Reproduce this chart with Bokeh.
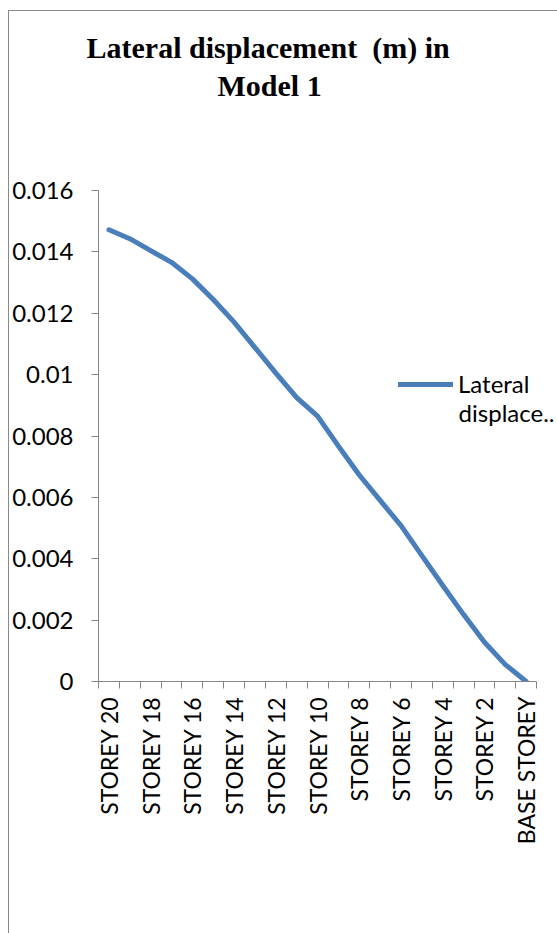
import math
from bokeh.plotting import figure
from bokeh.models import (ColumnDataSource, FixedTicker, Legend, LegendItem, Title,
                          Range1d, InlineStyleSheet, Label)
from bokeh.embed import file_html
from bokeh.resources import INLINE

storeys = ["STOREY 20", "STOREY 19", "STOREY 18", "STOREY 17", "STOREY 16",
           "STOREY 15", "STOREY 14", "STOREY 13", "STOREY 12", "STOREY 11",
           "STOREY 10", "STOREY 9", "STOREY 8", "STOREY 7", "STOREY 6",
           "STOREY 5", "STOREY 4", "STOREY 3", "STOREY 2", "STOREY 1",
           "BASE STOREY"]
displacement = [0.01472, 0.01443, 0.01404, 0.01366, 0.01312, 0.01245, 0.01171,
                0.01088, 0.01005, 0.00925, 0.00865, 0.00767, 0.00673, 0.0059,
                0.00508, 0.0041, 0.00313, 0.00218, 0.00128, 0.00055, 0.0]
y_ticks = [0, 0.002, 0.004, 0.006, 0.008, 0.01, 0.012, 0.014, 0.016]
y_tick_labels = ["0", "0.002", "0.004", "0.006", "0.008", "0.01", "0.012", "0.014", "0.016"]
title_line1 = "Lateral displacement \u00a0(m) in"
title_line2 = "Model 1"
series_name_line1 = "Lateral"
series_name_line2 = "displace.."

n = len(storeys)
idx = list(range(n))
src = ColumnDataSource(dict(x=idx, y=displacement))

LABEL_FONT = "Lato"
AXIS_COLOR = "#868686"

p = figure(width=557, height=933, output_backend="svg", toolbar_location=None,
           x_range=Range1d(-0.5, n + 0.5), y_range=Range1d(0, 0.016),
           min_border_left=98, min_border_right=0, min_border_top=190,
           min_border_bottom=252)
p.title = None
p.outline_line_color = None
p.grid.visible = False
p.background_fill_color = "white"
p.border_fill_color = "white"

r = p.line("x", "y", source=src, line_color="#4A7EBB", line_width=5,
           line_cap="round", line_join="round")

# x axis (category axis, ticks between categories)
xa = p.xaxis[0]
xa.bounds = (-0.5, n - 0.5)
xa.ticker = FixedTicker(ticks=idx[::2], minor_ticks=[i - 0.5 for i in range(n + 1)])
xa.major_label_overrides = {i: storeys[i] for i in idx[::2]}
xa.major_label_orientation = math.pi / 2
xa.major_tick_out = 0
xa.major_tick_in = 0
xa.minor_tick_out = 7
xa.minor_tick_in = 0
xa.minor_tick_line_color = AXIS_COLOR
xa.axis_line_color = AXIS_COLOR
xa.major_label_standoff = 8
xa.major_label_text_font = LABEL_FONT
xa.major_label_text_font_size = "23px"
xa.major_label_text_color = "black"

# y axis
ya = p.yaxis[0]
ya.ticker = FixedTicker(ticks=y_ticks, minor_ticks=[])
ya.major_label_overrides = {t: l for t, l in zip(y_ticks, y_tick_labels)}
ya.major_tick_out = 7
ya.major_tick_in = 0
ya.major_tick_line_color = AXIS_COLOR
ya.axis_line_color = AXIS_COLOR
ya.minor_tick_line_color = None
ya.major_label_standoff = 18
ya.major_label_text_font = LABEL_FONT
ya.major_label_text_font_size = "24px"
ya.major_label_text_color = "black"

# titles (a blank spacer title keeps the two title lines up at the top)
spacer = Title(text=" ", standoff=73, text_font_size="10px")
t2 = Title(text=title_line2, align="left", offset=119, standoff=6,
           text_font="Liberation Serif", text_font_style="bold",
           text_font_size="30px", text_color="black")
t1 = Title(text=title_line1, align="left", offset=-12, standoff=0,
           text_font="Liberation Serif", text_font_style="bold",
           text_font_size="30px", text_color="black")
p.add_layout(spacer, "above")
p.add_layout(t2, "above")
p.add_layout(t1, "above")

legend = Legend(items=[LegendItem(label=series_name_line1, renderers=[r])],
                location=(300, 283), glyph_width=55, glyph_height=20,
                label_standoff=5, padding=0, margin=0, spacing=0,
                border_line_color=None, background_fill_alpha=0,
                label_text_font=LABEL_FONT, label_text_font_size="24px",
                label_text_color="black")
p.add_layout(legend)

p.add_layout(Label(x=16.76, y=0.00877, text=series_name_line2,
                   text_font=LABEL_FONT, text_font_size="24px",
                   text_color="black", text_baseline="alphabetic"))

p.stylesheets = [InlineStyleSheet(css=(
    ":host{position:relative;}"
    ":host::after{content:'';position:absolute;left:8px;top:10px;right:0;bottom:0;"
    "border-left:1px solid #8a8a8a;border-top:1px solid #8a8a8a;pointer-events:none;}"
))]

open("out.html", "w").write(file_html(p, INLINE))
